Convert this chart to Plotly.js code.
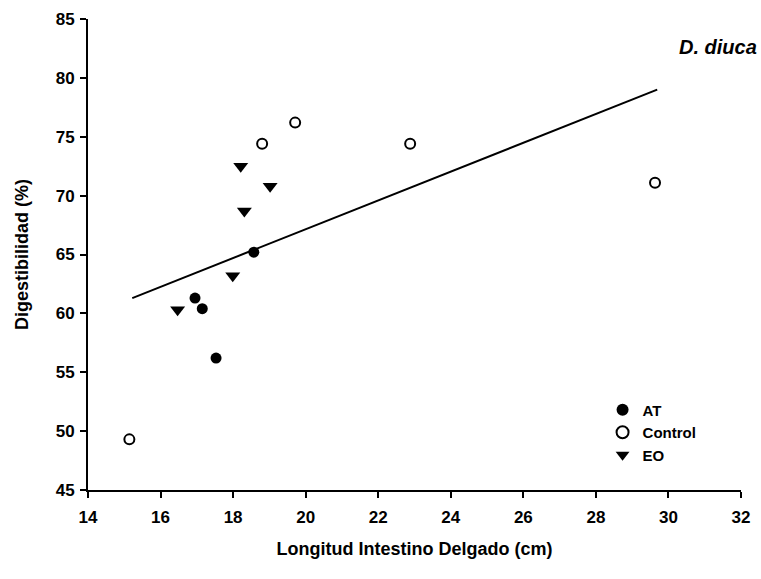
<!DOCTYPE html>
<html>
<head>
<meta charset="utf-8">
<script src="https://cdn.plot.ly/plotly-3.0.1.min.js"></script>
<style>html,body{margin:0;padding:0;background:#fff;}#chart{width:761px;height:579px;}</style>
</head>
<body>
<div id="chart"></div>
<script>
// Data
const atX = [16.95, 17.15, 17.53, 18.57];
const atY = [61.3, 60.4, 56.2, 65.2];

const controlX = [15.14, 18.80, 19.71, 22.88, 29.63];
const controlY = [49.3, 74.4, 76.2, 74.4, 71.1];

const eoX = [16.47, 17.99, 18.21, 18.31, 19.02];
const eoY = [60.3, 63.2, 72.5, 68.7, 70.8];

const fitX = [15.22, 29.69];
const fitY = [61.3, 79.0];

const xTicks = [14, 16, 18, 20, 22, 24, 26, 28, 30, 32];
const yTicks = [45, 50, 55, 60, 65, 70, 75, 80, 85];

const FONT = "Liberation Sans, Arial, sans-serif";

const traces = [
  {x: fitX, y: fitY, mode: "lines", line: {color: "#000", width: 2}, showlegend: false, hoverinfo: "skip"},
  {x: atX, y: atY, mode: "markers", name: "AT",
   marker: {symbol: "circle", size: 11, color: "#000", line: {color: "#000", width: 0}}},
  {x: controlX, y: controlY, mode: "markers", name: "Control",
   marker: {symbol: "circle-open", size: 10, color: "#000", line: {color: "#000", width: 2}}},
  {x: eoX, y: eoY, mode: "markers", name: "EO",
   marker: {symbol: "triangle-down", size: 13, color: "#000", line: {color: "#000", width: 0}}}
];

const layout = {
  width: 761, height: 579,
  paper_bgcolor: "#fff", plot_bgcolor: "#fff",
  margin: {l: 88, r: 20, t: 19, b: 89},
  font: {family: FONT, color: "#000"},
  xaxis: {
    range: [14, 32], tickvals: xTicks, ticktext: xTicks.map(String),
    showgrid: false, zeroline: false, showline: true, linecolor: "#000", linewidth: 2,
    ticks: "outside", ticklen: 6, tickwidth: 2, tickcolor: "#000",
    ticklabelstandoff: 5,
    tickfont: {family: FONT, size: 17, color: "#000", weight: 700},
    title: {text: "<b>Longitud Intestino Delgado (cm)</b>", font: {family: FONT, size: 18, color: "#000"}, standoff: 16}
  },
  yaxis: {
    range: [45, 85], tickvals: yTicks, ticktext: yTicks.map(String),
    showgrid: false, zeroline: false, showline: true, linecolor: "#000", linewidth: 2,
    ticks: "outside", ticklen: 6, tickwidth: 2, tickcolor: "#000",
    ticklabelstandoff: 2,
    tickfont: {family: FONT, size: 17, color: "#000", weight: 700},
    title: {text: "<b>Digestibilidad (%)</b>", font: {family: FONT, size: 18, color: "#000"}, standoff: 22}
  },
  showlegend: true,
  legend: {
    x: 0.788, y: 0.205, xanchor: "left", yanchor: "top",
    bgcolor: "rgba(0,0,0,0)", borderwidth: 0,
    font: {family: FONT, size: 15, color: "#000", weight: 700},
    tracegroupgap: 0, itemsizing: "constant"
  },
  annotations: [{
    xref: "paper", yref: "paper", x: 1.027, y: 0.94, xanchor: "right", yanchor: "middle",
    text: "<b><i>D. diuca</i></b>", showarrow: false,
    font: {family: FONT, size: 20, color: "#000"}
  }]
};

Plotly.newPlot("chart", traces, layout, {displayModeBar: false, staticPlot: true});
</script>
</body>
</html>
